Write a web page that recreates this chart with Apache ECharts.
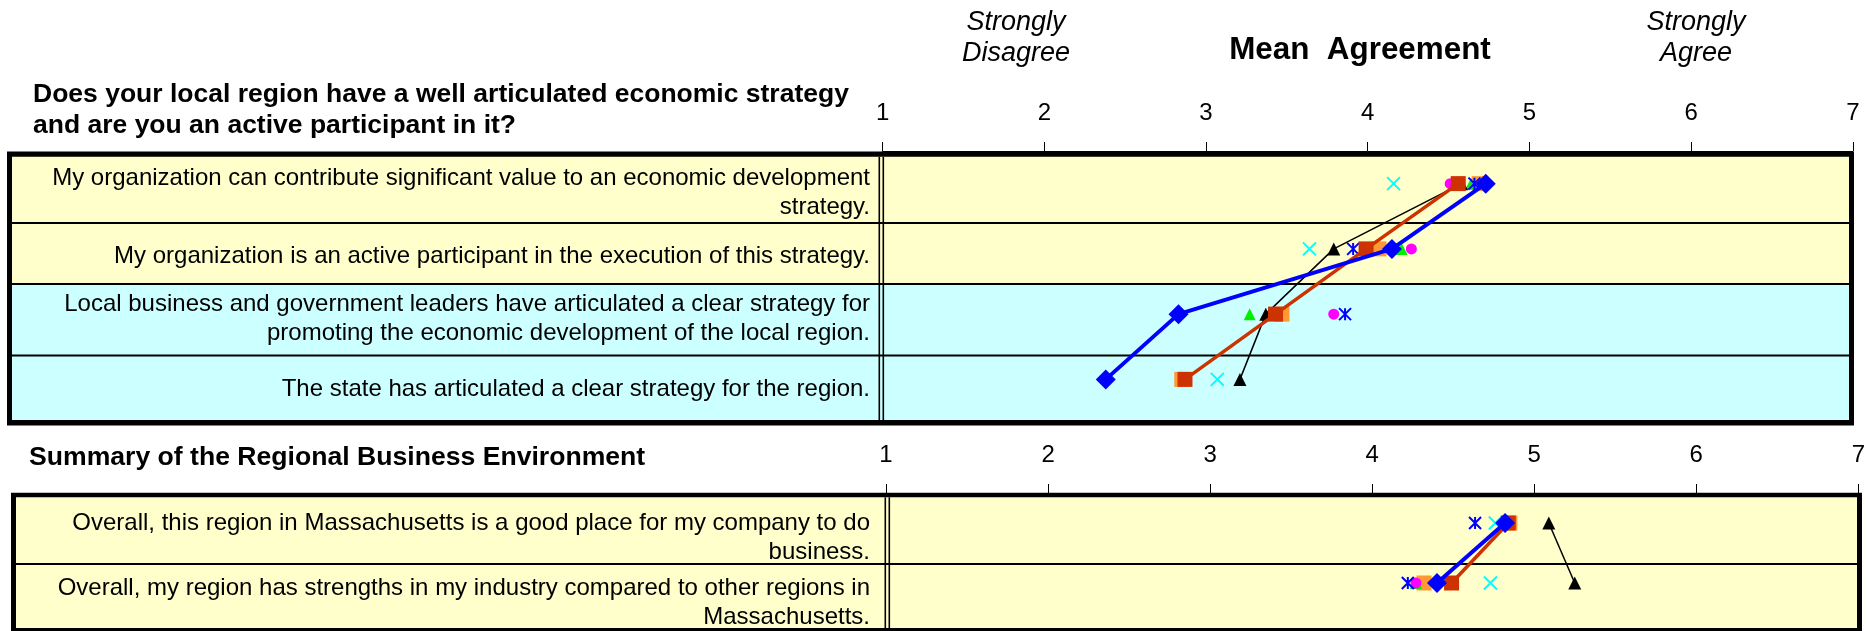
<!DOCTYPE html>
<html><head><meta charset="utf-8">
<script src="https://cdn.jsdelivr.net/npm/echarts@6/dist/echarts.min.js"></script>
<style>html,body{margin:0;padding:0;background:#fff}#c{width:1868px;height:631px}</style>
</head><body><div id="c"></div>
<script>
// ---------- data ----------
const axisTicks = ['1', '2', '3', '4', '5', '6', '7'];
const topTitle = ['Does your local region have a well articulated economic strategy', 'and are you an active participant in it?'];
const bottomTitle = 'Summary of the Regional Business Environment';
const topRows = [
  'My organization can contribute significant value to an economic development\nstrategy.',
  'My organization is an active participant in the execution of this strategy.',
  'Local business and government leaders have articulated a clear strategy for\npromoting the economic development of the local region.',
  'The state has articulated a clear strategy for the region.'
];
const bottomRows = [
  'Overall, this region in Massachusetts is a good place for my company to do\nbusiness.',
  'Overall, my region has strengths in my industry compared to other regions in\nMassachusetts.'
];
const blueDiamondTop = [4.73, 4.15, 2.83, 2.38];
const blueDiamondBottom = [4.82, 4.40];
const redSquareTop = [4.56, 3.99, 3.43, 2.87];
const redSquareBottom = [4.84, 4.49];
const blackTriangleTop = [4.58, 3.79, 3.37, 3.21];
const blackTriangleBottom = [5.09, 5.25];
const orangeSquareTop = [4.69, 4.07, 3.47, 2.85];
const orangeSquareBottom = [4.85, 4.32];
const cyanCrossTop = [4.16, 3.64, 3.43, 3.07];
const cyanCrossBottom = [4.76, 4.73];
const blueStarTop = [4.66, 3.91, 3.86, 2.87];
const blueStarBottom = [4.635, 4.22];
const magentaCircleTop = [4.51, 4.27, 3.79, 2.87];
const magentaCircleBottom = [4.83, 4.27];
const greenTriangleTop = [4.64, 4.21, 3.27, 2.87];
const greenTriangleBottom = [4.83, 4.27];

// ---------- layout / styles ----------
const FONT = '"Liberation Sans", Arial, sans-serif';
const YEL = '#FFFFCC', CYN = '#CCFFFF';
const CROSS = 'path://M0,0L10,10M10,0L0,10';
const STAR = 'path://M0,0L10,10M10,0L0,10M5,0L5,10';

const seriesDefs = [
  {top: orangeSquareTop, bottom: orangeSquareBottom, type: 'scatter', symbol: 'rect', size: 15, color: '#FF9933'},
  {top: cyanCrossTop, bottom: cyanCrossBottom, type: 'scatter', symbol: CROSS, size: 13, color: 'transparent', border: '#00FFFF', bw: 2},
  {top: greenTriangleTop, bottom: greenTriangleBottom, type: 'scatter', symbol: 'triangle', size: 12, color: '#00EE00'},
  {top: magentaCircleTop, bottom: magentaCircleBottom, type: 'scatter', symbol: 'circle', size: 11, color: '#FF00FF'},
  {top: blueStarTop, bottom: blueStarBottom, type: 'scatter', symbol: STAR, size: 12, color: 'transparent', border: '#0000FF', bw: 2},
  {top: blackTriangleTop, bottom: blackTriangleBottom, type: 'line', symbol: 'triangle', size: 13, color: '#000000', lw: 1.5},
  {top: redSquareTop, bottom: redSquareBottom, type: 'line', symbol: 'rect', size: 15, color: '#CC3300', lw: 3.5},
  {top: blueDiamondTop, bottom: blueDiamondBottom, type: 'line', symbol: 'diamond', size: 20, color: '#0000FF', lw: 4}
];

const series = [];
seriesDefs.forEach((d, k) => {
  [[d.top, topRows, 0], [d.bottom, bottomRows, 1]].forEach(([vals, cats, gi]) => {
    const s = {
      type: d.type, xAxisIndex: gi, yAxisIndex: gi, z: 3 + k,
      data: vals.map((v, i) => [v, cats[i]]),
      symbol: d.symbol, symbolSize: d.size,
      itemStyle: {color: d.color, borderColor: d.border || d.color, borderWidth: d.bw || 0, opacity: 1},
      animation: false, silent: true
    };
    if (d.type === 'line') {
      s.showSymbol = true; s.showAllSymbol = true;
      s.lineStyle = {color: d.color, width: d.lw};
    }
    series.push(s);
  });
});

function xAxis(gi) {
  return {
    gridIndex: gi, type: 'value', position: 'top', min: 1, max: 7, interval: 1,
    axisLine: {show: true, lineStyle: {color: '#000', width: 1}},
    axisTick: {show: true, inside: false, length: 9, lineStyle: {color: '#000', width: 1}},
    axisLabel: {margin: 25.5, fontSize: 24, fontFamily: FONT, color: '#000', formatter: v => axisTicks[v - 1]},
    splitLine: {show: false}
  };
}
function yAxis(gi, cats) {
  return {gridIndex: gi, type: 'category', data: cats, inverse: true, show: false};
}

// table graphics
const g = [];
const DY = 2.4;
function rect(x, y, w, h, fill, z) {
  g.push({type: 'rect', silent: true, z: z, shape: {x, y, width: w, height: h}, style: {fill}});
}
function text(str, x, y, opts) {
  g.push({type: 'text', silent: true, z: 20, x, y: y + DY, style: Object.assign({
    text: str, fill: '#000', fontFamily: FONT, fontSize: 24, align: 'right', verticalAlign: 'middle', lineHeight: 29
  }, opts || {})});
}
// top box
rect(7, 151.5, 1847, 274, '#000', -5);
const topCells = [[156.7, 222], [224, 283], [285, 354.5], [356.5, 420]];
const topFill = [YEL, YEL, CYN, CYN];
topCells.forEach((c, i) => rect(12, c[0], 1837, c[1] - c[0], topFill[i], -4));
rect(878.5, 156.7, 1.6, 263.3, '#000', -3);
rect(882.5, 156.7, 1.6, 263.3, '#000', -3);
// bottom box
rect(11, 492.7, 1851, 140, '#000', -5);
const botCells = [[497.3, 563], [565, 628]];
botCells.forEach(c => rect(16, c[0], 1841, c[1] - c[0], YEL, -4));
rect(884.5, 497.3, 1.6, 130.7, '#000', -3);
rect(888.5, 497.3, 1.6, 130.7, '#000', -3);

// row labels
const topCenters = [190.6, 253.7, 316.3, 387.2];
topRows.forEach((t, i) => text(t, 870, topCenters[i]));
const botCenters = [535, 600.4];
bottomRows.forEach((t, i) => text(t, 870, botCenters[i]));

// headings
text(topTitle[0], 33, 92, {align: 'left', fontWeight: 'bold', fontSize: 26.5});
text(topTitle[1], 33, 123, {align: 'left', fontWeight: 'bold', fontSize: 26.5});
text(bottomTitle, 29, 455, {align: 'left', fontWeight: 'bold', fontSize: 26.6});
text('Strongly\nDisagree', 1016, 35.5, {align: 'center', fontStyle: 'italic', fontSize: 27, lineHeight: 31});
text('Strongly\nAgree', 1696, 35.5, {align: 'center', fontStyle: 'italic', fontSize: 27, lineHeight: 31});
text('Mean  Agreement', 1360, 47.6, {align: 'center', fontWeight: 'bold', fontSize: 31.4});

const chart = echarts.init(document.getElementById('c'), null, {renderer: 'canvas'});
chart.setOption({
  backgroundColor: '#fff',
  animation: false,
  grid: [
    {left: 882.6, top: 151, width: 970.2, height: 261},
    {left: 886, top: 493, width: 975, height: 120}
  ],
  xAxis: [xAxis(0), xAxis(1)],
  yAxis: [yAxis(0, topRows), yAxis(1, bottomRows)],
  graphic: {elements: g},
  series: series
});
</script></body></html>
